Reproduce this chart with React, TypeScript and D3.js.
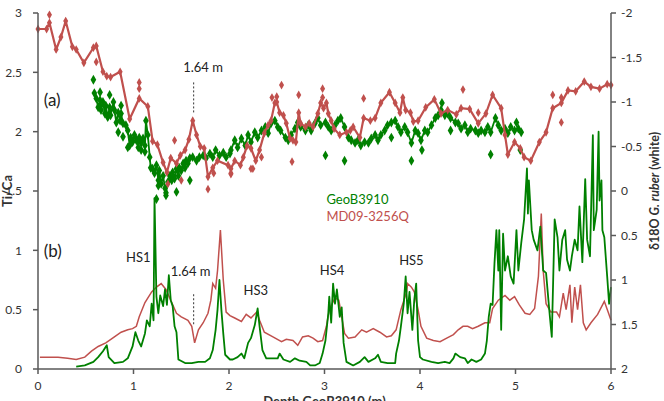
import React from "react";
import * as d3 from "d3";

const depthTicks = [0, 1, 2, 3, 4, 5, 6];
const tiCaTicks = [0, 0.5, 1, 1.5, 2, 2.5, 3];
const d18OTicks = [-2, -1.5, -1, -0.5, 0, 0.5, 1, 1.5, 2];

const seriesNames = ["GeoB3910", "MD09-3256Q"];
const hsLabels = ["HS1", "HS3", "HS4", "HS5"];

// (a) d18O G. ruber, MD09-3256Q  [depth, d18O]
const mdD18O = [
  [0.0, -1.82], [0.09, -1.82], [0.12, -1.89], [0.19, -1.59], [0.24, -1.73], [0.29, -1.91],
  [0.36, -1.62], [0.4, -1.59], [0.48, -1.44], [0.58, -1.61], [0.61, -1.63], [0.68, -1.34],
  [0.72, -1.29], [0.76, -1.28], [0.86, -1.34], [0.96, -0.81], [1.06, -1.04], [1.15, -0.95],
  [1.2, -0.56], [1.25, -0.52], [1.31, -0.32], [1.35, -0.21], [1.39, -0.37], [1.45, -0.31],
  [1.49, -0.4], [1.54, -0.46], [1.58, -0.58], [1.62, -0.79], [1.66, -0.63], [1.7, -0.5],
  [1.74, -0.48], [1.78, -0.16], [1.83, -0.26], [1.88, -0.34], [1.99, -0.29], [2.02, -0.25],
  [2.06, -0.34], [2.12, -0.29], [2.15, -0.38], [2.19, -0.51], [2.23, -0.48], [2.28, -0.34],
  [2.32, -0.46], [2.37, -0.65], [2.41, -0.74], [2.44, -0.79], [2.48, -0.99], [2.5, -1.0],
  [2.53, -0.88], [2.57, -0.85], [2.6, -0.76], [2.64, -0.59], [2.67, -0.57], [2.7, -0.55],
  [2.73, -0.88], [2.75, -0.76], [2.8, -0.72], [2.84, -0.76], [2.88, -0.72], [2.93, -0.87],
  [2.96, -0.99], [2.99, -0.93], [3.02, -0.99], [3.04, -0.87], [3.07, -0.79], [3.1, -0.7],
  [3.16, -0.63], [3.23, -0.66], [3.27, -0.68], [3.3, -0.72], [3.37, -0.6], [3.41, -0.82],
  [3.48, -0.79], [3.53, -0.82], [3.59, -0.99], [3.68, -1.11], [3.74, -0.99], [3.79, -0.88],
  [3.82, -1.05], [3.85, -0.91], [3.9, -0.88], [3.93, -0.78], [3.98, -0.79], [4.06, -0.94],
  [4.15, -1.03], [4.22, -0.87], [4.29, -0.91], [4.38, -0.86], [4.43, -0.93], [4.52, -0.92],
  [4.61, -0.76], [4.69, -0.87], [4.76, -1.08], [4.85, -0.93], [4.89, -0.63], [4.92, -0.41],
  [4.99, -0.55], [5.05, -0.48], [5.09, -0.38], [5.16, -0.34], [5.25, -0.55], [5.32, -0.66],
  [5.39, -0.93], [5.48, -0.99], [5.55, -1.13], [5.63, -1.12], [5.72, -1.23], [5.79, -1.17],
  [5.88, -1.15], [5.96, -1.2], [6.0, -1.19],
];

// replicate measurements, MD09-3256Q
const mdD18OReps = [
  [0.12, -1.98], [0.61, -1.45], [1.06, -1.22], [1.06, -1.15], [1.36, -0.08], [1.43, -0.57],
  [1.5, -0.12], [1.78, -0.02], [1.84, -0.2], [2.02, -0.19], [2.02, -0.2], [2.23, -0.25],
  [2.25, -0.25], [2.34, -0.38], [2.45, -1.05], [2.5, -1.06], [2.55, -1.19], [2.66, -0.33],
  [2.73, -1.08], [2.98, -1.15], [2.98, -1.05], [3.41, -1.04], [4.45, -1.14], [4.61, -0.88],
  [5.39, -1.08], [5.48, -1.05], [5.48, -0.77],
];

// (a) d18O G. ruber, GeoB3910
const geoD18O = [
  [0.59, -1.1], [0.61, -1.04], [0.63, -0.94], [0.65, -1.02], [0.66, -0.91], [0.68, -1.0],
  [0.7, -0.87], [0.71, -0.96], [0.73, -0.83], [0.75, -0.94], [0.76, -0.85], [0.79, -1.0],
  [0.8, -0.91], [0.82, -0.77], [0.84, -0.88], [0.86, -0.79], [0.87, -0.87], [0.89, -0.76],
  [0.92, -0.74], [0.94, -0.68], [0.96, -0.51], [0.97, -0.6], [0.99, -0.55], [1.01, -0.63],
  [1.03, -0.57], [1.05, -0.49], [1.06, -0.6], [1.08, -0.54], [1.1, -0.59], [1.12, -0.51],
  [1.13, -0.79], [1.15, -0.63], [1.17, -0.38], [1.18, -0.26], [1.2, -0.25], [1.22, -0.2],
  [1.24, -0.29], [1.26, -0.12], [1.27, -0.23], [1.29, -0.08], [1.31, -0.17], [1.33, -0.03],
  [1.34, 0.02], [1.36, -0.1], [1.38, -0.17], [1.4, -0.12], [1.41, -0.21], [1.43, -0.14],
  [1.45, -0.25], [1.47, -0.17], [1.48, -0.26], [1.5, -0.23], [1.52, -0.31], [1.54, -0.26],
  [1.55, -0.34], [1.57, -0.31], [1.59, -0.37], [1.62, -0.38], [1.66, -0.34], [1.69, -0.38],
  [1.73, -0.4], [1.76, -0.37], [1.8, -0.42], [1.83, -0.38], [1.86, -0.46], [1.9, -0.4],
  [1.94, -0.43], [1.97, -0.38], [2.01, -0.42], [2.02, -0.46], [2.06, -0.57], [2.09, -0.49],
  [2.13, -0.59], [2.17, -0.51], [2.2, -0.63], [2.23, -0.55], [2.27, -0.66], [2.3, -0.6],
  [2.34, -0.68], [2.38, -0.72], [2.41, -0.65], [2.44, -0.76], [2.48, -0.79], [2.51, -0.72],
  [2.54, -0.68], [2.59, -0.6], [2.62, -0.57], [2.65, -0.63], [2.69, -0.7], [2.72, -0.77],
  [2.75, -0.72], [2.8, -0.68], [2.83, -0.74], [2.86, -0.68], [2.9, -0.76], [2.93, -0.82],
  [2.96, -0.74], [3.01, -0.77], [3.04, -0.72], [3.07, -0.68], [3.11, -0.74], [3.14, -0.79],
  [3.17, -0.82], [3.21, -0.72], [3.25, -0.6], [3.28, -0.57], [3.32, -0.54], [3.35, -0.57],
  [3.38, -0.51], [3.42, -0.55], [3.46, -0.54], [3.49, -0.59], [3.53, -0.63], [3.56, -0.57],
  [3.59, -0.63], [3.63, -0.68], [3.66, -0.74], [3.7, -0.77], [3.74, -0.79], [3.77, -0.72],
  [3.8, -0.66], [3.84, -0.72], [3.87, -0.66], [3.91, -0.54], [3.95, -0.68], [3.98, -0.65],
  [4.01, -0.57], [4.05, -0.68], [4.08, -0.66], [4.12, -0.74], [4.16, -0.82], [4.19, -0.85],
  [4.22, -0.91], [4.26, -0.85], [4.29, -0.87], [4.32, -0.82], [4.37, -0.77], [4.4, -0.76],
  [4.43, -0.7], [4.47, -0.74], [4.5, -0.66], [4.53, -0.7], [4.58, -0.68], [4.61, -0.65],
  [4.64, -0.68], [4.68, -0.66], [4.71, -0.72], [4.74, -0.66], [4.79, -0.82], [4.82, -0.74],
  [4.85, -0.68], [4.89, -0.7], [4.92, -0.65], [4.95, -0.72], [4.99, -0.68], [5.03, -0.7],
  [5.06, -0.66],
];

// scattered GeoB3910 samples off the line
const geoD18OExtra = [
  [0.58, -1.25], [0.65, -1.11], [0.75, -1.08], [0.87, -0.96], [0.84, -0.66], [0.89, -0.61],
  [0.94, -0.49], [1.08, -0.46], [1.12, -0.44], [1.24, 0.09], [1.26, -0.06], [1.34, 0.05],
  [1.45, 0.01], [1.59, -0.12], [3.01, -0.4], [3.21, -0.34], [3.7, -0.6], [3.91, -0.34],
  [4.02, -0.46], [4.23, -0.99], [4.32, -0.68], [4.74, -0.41], [5.01, -0.77], [5.05, -0.46],
];

// (b) Ti/Ca, MD09-3256Q
const mdTiCa = [
  [0.02, 0.1], [0.1, 0.1], [0.21, 0.1], [0.31, 0.09], [0.4, 0.08], [0.49, 0.1], [0.56, 0.15],
  [0.63, 0.19], [0.71, 0.22], [0.8, 0.27], [0.87, 0.31], [0.94, 0.33], [0.99, 0.34], [1.03, 0.36],
  [1.06, 0.44], [1.12, 0.56], [1.19, 0.65], [1.24, 0.69], [1.29, 0.72], [1.34, 0.67], [1.4, 0.56],
  [1.45, 0.47], [1.5, 0.44], [1.57, 0.41], [1.61, 0.36], [1.64, 0.22], [1.68, 0.33], [1.73, 0.39],
  [1.78, 0.47], [1.81, 0.58], [1.83, 0.72], [1.86, 0.68], [1.88, 0.83], [1.91, 1.17], [1.94, 0.75],
  [1.97, 0.48], [2.01, 0.45], [2.06, 0.43], [2.13, 0.4], [2.18, 0.46], [2.23, 0.43], [2.29, 0.48],
  [2.32, 0.41], [2.37, 0.31], [2.46, 0.27], [2.55, 0.23], [2.6, 0.25], [2.67, 0.24], [2.72, 0.2],
  [2.77, 0.27], [2.83, 0.28], [2.88, 0.26], [2.93, 0.23], [2.98, 0.24], [3.02, 0.36], [3.05, 0.5],
  [3.11, 0.6], [3.15, 0.58], [3.18, 0.44], [3.21, 0.3], [3.25, 0.26], [3.32, 0.27], [3.39, 0.33],
  [3.44, 0.31], [3.51, 0.34], [3.58, 0.31], [3.65, 0.27], [3.7, 0.28], [3.75, 0.33], [3.8, 0.5],
  [3.86, 0.65], [3.87, 0.72], [3.91, 0.69], [3.94, 0.65], [3.98, 0.5], [4.01, 0.36], [4.07, 0.26],
  [4.14, 0.24], [4.21, 0.23], [4.28, 0.26], [4.35, 0.29], [4.4, 0.33], [4.45, 0.36], [4.5, 0.36],
  [4.55, 0.34], [4.61, 0.36], [4.68, 0.39], [4.73, 0.39], [4.76, 0.51], [4.82, 0.58], [4.89, 0.62],
  [4.94, 0.58], [4.99, 0.61], [5.04, 0.54], [5.1, 0.47], [5.15, 0.46], [5.2, 0.51], [5.24, 0.78],
  [5.27, 1.31], [5.29, 0.83], [5.32, 0.55], [5.37, 0.48], [5.43, 0.48], [5.46, 0.44], [5.5, 0.64],
  [5.53, 0.5], [5.57, 0.71], [5.59, 0.39], [5.62, 0.69], [5.65, 0.5], [5.68, 0.71], [5.71, 0.39],
  [5.74, 0.33], [5.79, 0.39], [5.86, 0.46], [5.93, 0.57], [5.97, 0.48], [6.0, 0.41],
];

// (b) Ti/Ca, GeoB3910
const geoTiCa = [
  [0.4, 0.02], [0.49, 0.03], [0.58, 0.06], [0.63, 0.1], [0.68, 0.15], [0.72, 0.2], [0.74, 0.1],
  [0.8, 0.05], [0.89, 0.06], [0.94, 0.09], [0.99, 0.19], [1.02, 0.31], [1.05, 0.24], [1.08, 0.19],
  [1.12, 0.3], [1.14, 0.41], [1.17, 0.36], [1.19, 0.55], [1.21, 0.41], [1.22, 1.44], [1.24, 0.61],
  [1.26, 0.47], [1.28, 0.62], [1.31, 0.53], [1.33, 0.67], [1.35, 0.54], [1.37, 0.79], [1.39, 0.58],
  [1.41, 0.53], [1.43, 0.36], [1.45, 0.31], [1.47, 0.08], [1.54, 0.05], [1.61, 0.05], [1.68, 0.06],
  [1.75, 0.06], [1.8, 0.09], [1.83, 0.16], [1.86, 0.33], [1.88, 0.5], [1.9, 0.75], [1.92, 0.5],
  [1.94, 0.3], [1.96, 0.12], [2.01, 0.08], [2.04, 0.08], [2.09, 0.1], [2.13, 0.13], [2.16, 0.09],
  [2.2, 0.22], [2.23, 0.26], [2.27, 0.37], [2.3, 0.51], [2.32, 0.36], [2.35, 0.16], [2.39, 0.09],
  [2.46, 0.09], [2.51, 0.09], [2.53, 0.13], [2.57, 0.08], [2.64, 0.06], [2.69, 0.09], [2.74, 0.07],
  [2.81, 0.06], [2.85, 0.03], [2.9, 0.03], [2.95, 0.05], [2.98, 0.13], [3.01, 0.24], [3.04, 0.47],
  [3.05, 0.61], [3.07, 0.39], [3.09, 0.72], [3.11, 0.55], [3.13, 0.67], [3.16, 0.44], [3.18, 0.52],
  [3.2, 0.22], [3.23, 0.06], [3.3, 0.03], [3.37, 0.06], [3.42, 0.1], [3.46, 0.06], [3.53, 0.09],
  [3.56, 0.12], [3.59, 0.06], [3.66, 0.05], [3.74, 0.05], [3.75, 0.13], [3.78, 0.24], [3.8, 0.36],
  [3.83, 0.55], [3.85, 0.78], [3.87, 0.47], [3.89, 0.65], [3.92, 0.33], [3.94, 0.58], [3.96, 0.72],
  [3.98, 0.24], [4.0, 0.1], [4.03, 0.08], [4.12, 0.06], [4.19, 0.05], [4.26, 0.06], [4.31, 0.05],
  [4.35, 0.09], [4.37, 0.13], [4.42, 0.1], [4.47, 0.09], [4.5, 0.05], [4.54, 0.08], [4.59, 0.06],
  [4.64, 0.08], [4.68, 0.13], [4.7, 0.24], [4.72, 0.44], [4.74, 0.55], [4.76, 0.54], [4.78, 0.89],
  [4.8, 1.17], [4.82, 0.83], [4.83, 1.17], [4.85, 0.33], [4.87, 1.14], [4.89, 0.83], [4.92, 0.95],
  [4.95, 0.78], [4.98, 0.72], [5.01, 1.17], [5.03, 0.83], [5.06, 1.06], [5.09, 1.26], [5.12, 1.69],
  [5.13, 1.31], [5.14, 1.59], [5.17, 1.17], [5.19, 1.09], [5.23, 1.0], [5.26, 1.2], [5.29, 0.83],
  [5.32, 0.81], [5.36, 0.44], [5.38, 0.27], [5.41, 1.26], [5.44, 1.11], [5.46, 0.83], [5.49, 1.09],
  [5.52, 1.17], [5.54, 0.92], [5.57, 0.83], [5.59, 0.95], [5.62, 1.09], [5.65, 1.0], [5.67, 1.37],
  [5.7, 0.9], [5.73, 1.6], [5.75, 1.09], [5.78, 0.95], [5.81, 1.97], [5.82, 1.17], [5.85, 1.34],
  [5.87, 2.0], [5.88, 1.42], [5.9, 1.59], [5.91, 1.17], [5.93, 1.11], [5.96, 0.78], [5.98, 0.55],
  [6.0, 0.69],
];

const GREEN = "#008000";
const RED = "#C0504D";
const AXIS = "#595959";
const FONT = "Lato, 'Open Sans', sans-serif";

export default function App() {
  const width = 664;
  const height = 401;

  // plot frame
  const x = d3.scaleLinear().domain([0, 6]).range([38, 611]);
  const yTi = d3.scaleLinear().domain([0, 3]).range([369, 13]);
  const yD = d3.scaleLinear().domain([-2, 2]).range([13, 369]);

  const lineTop = d3.line<number[]>().x((d) => x(d[0])).y((d) => yD(d[1]));
  const lineBot = d3.line<number[]>().x((d) => x(d[0])).y((d) => yTi(d[1]));
  const greenMark = d3.symbol().type(d3.symbolDiamond).size(28)() as string;
  const redMark = d3.symbol().type(d3.symbolDiamond).size(22)() as string;

  const x0 = x.range()[0], x1 = x.range()[1];
  const yBase = yTi(0);

  return (
    <svg width={width} height={height} style={{ position: "absolute", left: 0, top: 0 }} fontFamily={FONT}>
      <rect width={width} height={height} fill="#fff" />

      {/* bottom panel: Ti/Ca */}
      <path d={lineBot(mdTiCa) || ""} fill="none" stroke={RED} strokeWidth={1.5} />
      <path d={lineBot(geoTiCa) || ""} fill="none" stroke={GREEN} strokeWidth={1.8} strokeLinejoin="round" />

      {/* top panel: d18O */}
      <path d={lineTop(geoD18O) || ""} fill="none" stroke={GREEN} strokeWidth={1.8} />
      {geoD18O.concat(geoD18OExtra).map((d, i) => (
        <path key={"g" + i} d={greenMark} transform={`translate(${x(d[0])},${yD(d[1])})`} fill={GREEN} />
      ))}
      <path d={lineTop(mdD18O) || ""} fill="none" stroke={RED} strokeWidth={2.2} />
      {mdD18O.concat(mdD18OReps).map((d, i) => (
        <path key={"r" + i} d={redMark} transform={`translate(${x(d[0])},${yD(d[1])})`} fill={RED} />
      ))}

      {/* axes */}
      <g stroke={AXIS} strokeWidth={1.5} fill="none">
        <line x1={x0} x2={x0} y1={yTi(3)} y2={yBase} />
        <line x1={x1} x2={x1} y1={yD(-2)} y2={yD(2)} />
        <line x1={x0} x2={x1} y1={yBase} y2={yBase} />
        {tiCaTicks.map((t) => (
          <line key={"lt" + t} x1={x0 - 5} x2={x0} y1={yTi(t)} y2={yTi(t)} />
        ))}
        {d18OTicks.map((t) => (
          <line key={"rt" + t} x1={x1} x2={x1 + 5} y1={yD(t)} y2={yD(t)} />
        ))}
        {depthTicks.map((t) => (
          <line key={"bt" + t} x1={x(t)} x2={x(t)} y1={yBase} y2={yBase + 5} />
        ))}
      </g>
      <g fontSize={12} fill="#333">
        {tiCaTicks.map((t) => (
          <text key={"ll" + t} x={x0 - 16} y={yTi(t)} dy="0.35em" textAnchor="end">{t}</text>
        ))}
        {d18OTicks.map((t) => (
          <text key={"rl" + t} x={x1 + 10} y={yD(t)} dy="0.35em" textAnchor="start">{t}</text>
        ))}
        {depthTicks.map((t) => (
          <text key={"bl" + t} x={x(t)} y={yBase + 21} textAnchor="middle">{t}</text>
        ))}
      </g>

      {/* axis titles */}
      <text transform={`translate(7,${yTi(1.5)}) rotate(-90)`} textAnchor="middle" fontSize={13} fontWeight="bold" fill="#333" dy="0.35em">Ti/Ca</text>
      <text transform={`translate(655,${yD(0)}) rotate(-90)`} textAnchor="middle" fontSize={12.5} fontWeight="bold" fill="#333" dy="0.35em">
        δ18O <tspan fontStyle="italic">G. ruber</tspan> (white)
      </text>
      <text x={(x0 + x1) / 2} y={height + 5} textAnchor="middle" fontSize={13} fontWeight="bold" fill="#333">Depth GeoB3910 (m)</text>

      {/* annotations */}
      <g fill="#222">
        <text x={x(0.06)} y={yD(-0.96)} fontSize={17}>(a)</text>
        <text x={x(0.06)} y={yTi(0.94)} fontSize={17}>(b)</text>
        <text x={x(1.52)} y={yD(-1.34)} fontSize={13}>1.64 m</text>
        <text x={x(1.39)} y={yTi(0.78)} fontSize={13}>1.64 m</text>
        <text x={x(1.05)} y={yTi(0.9)} fontSize={13} textAnchor="middle">{hsLabels[0]}</text>
        <text x={x(2.28)} y={yTi(0.62)} fontSize={13} textAnchor="middle">{hsLabels[1]}</text>
        <text x={x(3.08)} y={yTi(0.79)} fontSize={13} textAnchor="middle">{hsLabels[2]}</text>
        <text x={x(3.91)} y={yTi(0.88)} fontSize={13} textAnchor="middle">{hsLabels[3]}</text>
      </g>
      <g stroke="#333" strokeWidth={1} strokeDasharray="2,2">
        <line x1={x(1.63)} x2={x(1.63)} y1={yD(-1.22)} y2={yD(-0.88)} />
        <line x1={x(1.63)} x2={x(1.63)} y1={yTi(0.63)} y2={yTi(0.37)} />
      </g>

      {/* legend */}
      <text x={x(3.02)} y={yTi(1.39)} fontSize={13} fill={GREEN}>{seriesNames[0]}</text>
      <text x={x(3.02)} y={yTi(1.25)} fontSize={13} fill={RED}>{seriesNames[1]}</text>
    </svg>
  );
}
